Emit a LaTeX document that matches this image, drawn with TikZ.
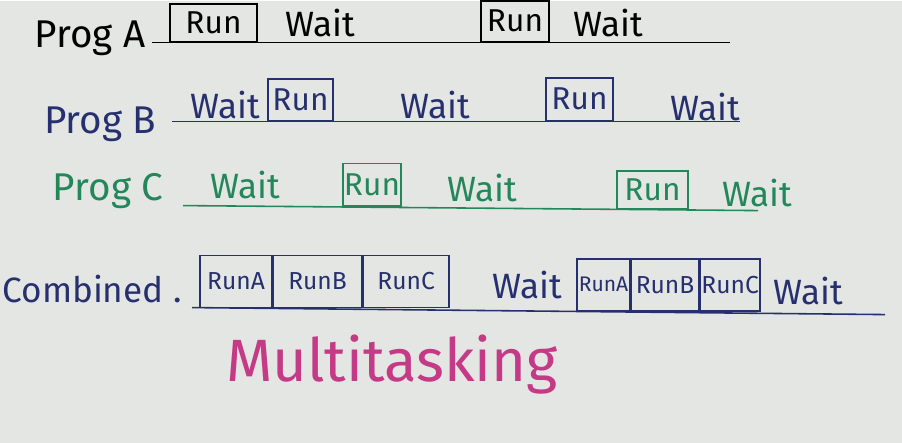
\documentclass[tikz,border=0pt]{standalone}
\usepackage{fontspec}
\setmainfont{Fira Sans}
\usetikzlibrary{positioning}
\definecolor{boardgrey}{HTML}{E4E6E3}
\definecolor{penblue}{HTML}{27306F}
\definecolor{pengreen}{HTML}{23875A}
\definecolor{penpink}{HTML}{C43A86}
\begin{document}
\begin{tikzpicture}[
      x=0.02cm, y=-0.02cm,
      lbl/.style={inner sep=1pt, font=\fontsize{22}{24}\selectfont},
      waittxt/.style={inner sep=1pt, font=\fontsize{20}{22}\selectfont},
      runbox/.style={draw, anchor=south, inner sep=0pt, line width=0.9pt, font=\fontsize{18}{20}\selectfont},
      smallbox/.style={runbox, minimum height=1.04cm, font=\fontsize{14}{16}\selectfont},
      tline/.style={line width=0.9pt}
    ]
      \fill[boardgrey] (0,0) rectangle (902,442);

      % Prog A
      \begin{scope}[color=black]
        \node[lbl] (pa) at (90,38) {Prog A};
        \coordinate (pa0) at (152,42);
        \coordinate (pa1) at (730,42);
        \draw[tline] (pa0) -- (pa1);
        \node[runbox, minimum width=1.74cm, minimum height=0.76cm] (ra1) at (213.5,42) {Run};
        \node[waittxt] (wa1) at (320,22) {Wait};
        \node[runbox, minimum width=1.36cm, minimum height=0.82cm] (ra2) at (515,42) {Run};
        \node[waittxt] (wa2) at (608,22) {Wait};
      \end{scope}

      % Prog B
      \begin{scope}[color=penblue]
        \node[lbl] (pb) at (100,124) {Prog B};
        \coordinate (pb0) at (172,121);
        \coordinate (pb1) at (740,121);
        \draw[tline] (pb0) -- (pb1);
        \node[waittxt] (wb1) at (225,104) {Wait};
        \node[runbox, minimum width=1.3cm, minimum height=0.84cm] (rb1) at (300.5,121) {Run};
        \node[waittxt] (wb2) at (435,104) {Wait};
        \node[runbox, minimum width=1.34cm, minimum height=0.86cm] (rb2) at (579.5,121) {Run};
        \node[waittxt] (wb3) at (705,106) {Wait};
      \end{scope}

      % Prog C
      \begin{scope}[color=pengreen]
        \node[lbl] (pc) at (108,190) {Prog C};
        \coordinate (pc0) at (183,205);
        \coordinate (pc1) at (758,210);
        \draw[tline] (pc0) -- (pc1);
        \node[waittxt] (wc1) at (245,184) {Wait};
        \node[runbox, minimum width=1.16cm, minimum height=0.86cm] (rc1) at (372,206.5) {Run};
        \node[waittxt] (wc2) at (482,187) {Wait};
        \node[runbox, minimum width=1.42cm, minimum height=0.76cm] (rc2) at (652.5,209) {Run};
        \node[waittxt] (wc3) at (757,192) {Wait};
      \end{scope}

      % Combined
      \begin{scope}[color=penblue]
        \node[lbl, font=\fontsize{20}{22}\selectfont] (pd) at (92,288) {Combined .};
        \coordinate (pd0) at (192,307);
        \coordinate (pd1) at (885,314);
        \draw[tline] (pd0) -- (pd1);
        \node[smallbox, minimum width=1.44cm] (da1) at (236,307.5) {RunA};
        \node[smallbox, minimum width=1.76cm, right=0pt of da1] (db1) {RunB};
        \node[smallbox, minimum width=1.72cm, right=0pt of db1] (dc1) {RunC};
        \node[waittxt] (wd1) at (527,284) {Wait};
        \node[smallbox, minimum width=1.06cm, font=\fontsize{12}{14}\selectfont] (da2) at (603.5,311) {RunA};
        \node[smallbox, minimum width=1.34cm, right=0pt of da2] (db2) {RunB};
        \node[smallbox, minimum width=1.2cm, right=0pt of db2] (dc2) {RunC};
        \node[waittxt] (wd2) at (808,290) {Wait};
      \end{scope}

      \node[color=penpink, font=\fontsize{34}{38}\selectfont] (mt) at (392,364) {Multitasking};
    \end{tikzpicture}
\end{document}
